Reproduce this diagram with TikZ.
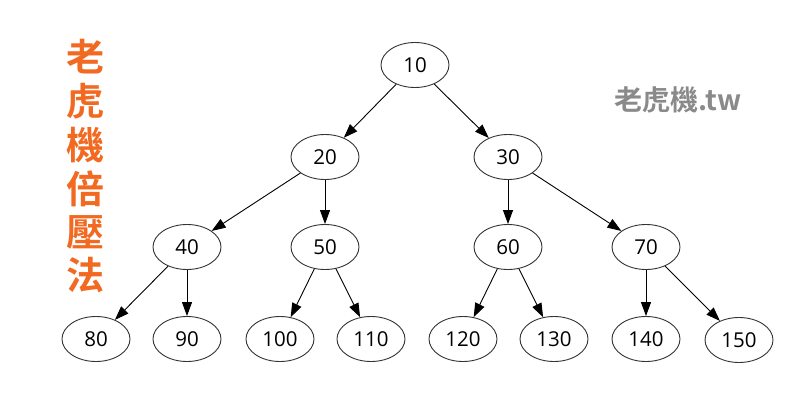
\documentclass[tikz,border=0pt]{standalone}
\usepackage{fontspec}
\setmainfont{Open Sans}
\newfontfamily\cjk{Noto Sans CJK TC}[BoldFont={* Bold}]
\usetikzlibrary{shapes.geometric,arrows.meta}
\definecolor{tigerorange}{HTML}{F26A21}
\definecolor{markgrey}{HTML}{8A8A8A}
\tikzset{
  tnode/.style={ellipse,draw=black!80,line width=0.9pt,minimum width=68pt,minimum height=45pt,inner sep=0pt,font=\fontsize{20.5}{20.5}\selectfont},
  tedge/.style={-{Triangle[length=14pt,width=10pt]},line width=0.9pt,black},
  sidechar/.style={font=\cjk\bfseries\fontsize{38}{38}\selectfont,text=tigerorange},
  markfont/.style={font=\cjk\bfseries\fontsize{28}{28}\selectfont,text=markgrey},
}
\begin{document}
\begin{tikzpicture}[x=1pt,y=-1pt]
\useasboundingbox (0,0) rectangle (800,409);
\fill[white] (0,0) rectangle (800,409);
\node[tnode] (n10) at (415,65) {10};
\node[tnode] (n20) at (325,157) {20};
\node[tnode] (n30) at (508,157) {30};
\node[tnode] (n40) at (187,247) {40};
\node[tnode] (n50) at (325,247) {50};
\node[tnode] (n60) at (508,247) {60};
\node[tnode] (n70) at (646,247) {70};
\node[tnode] (n80) at (96,339) {80};
\node[tnode] (n90) at (187,339) {90};
\node[tnode] (n100) at (280,339) {100};
\node[tnode] (n110) at (371,339) {110};
\node[tnode] (n120) at (463,339) {120};
\node[tnode] (n130) at (554,339) {130};
\node[tnode] (n140) at (646,339) {140};
\node[tnode] (n150) at (739,340) {150};
\foreach \a/\b in {10/20,10/30,20/40,20/50,30/60,30/70,40/80,40/90,50/100,50/110,60/120,60/130,70/140,70/150}
  \draw[tedge] (n\a) -- (n\b);
\foreach \i/\c/\y in {1/老/57,2/虎/101,3/機/145,4/倍/189,5/壓/232,6/法/275}{
  \node[sidechar] (c\i) at (85,\y) {\c};
}
\node[markfont] (mark) at (678,100) {老虎機.tw};
\end{tikzpicture}
\end{document}
